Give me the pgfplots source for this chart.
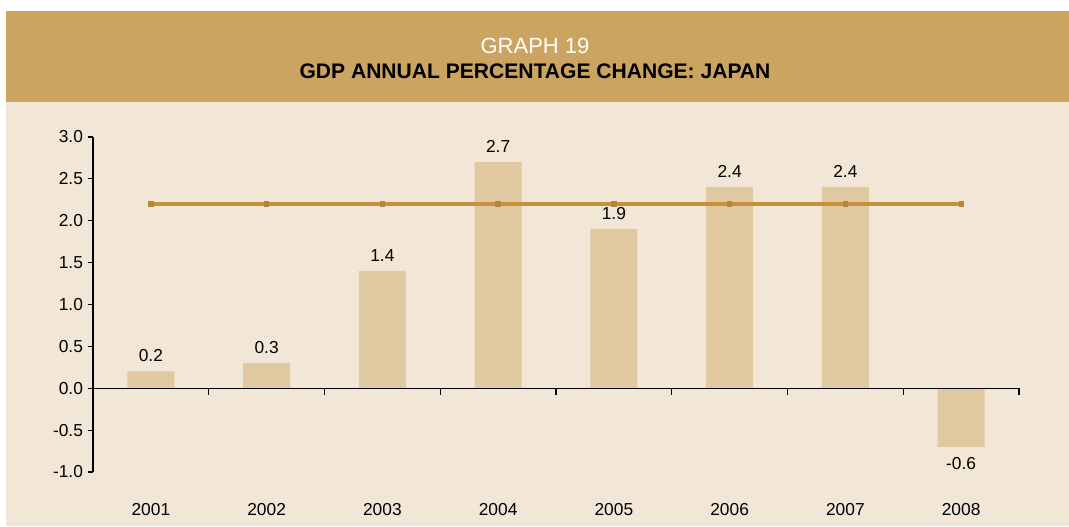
\documentclass[border=0pt]{standalone}
\usepackage{pgfplots}
\pgfplotsset{compat=1.18}
\usepackage{pgfplotstable}
\usepackage{fontspec}
\setmainfont{Liberation Sans}

\definecolor{header}{HTML}{CCA462}
\definecolor{panel}{HTML}{F2E6D7}
\definecolor{barfill}{HTML}{E0C8A0}
\definecolor{avgline}{HTML}{C6913F}
\definecolor{avgmark}{HTML}{B7843A}

% bar for 2008 reaches -0.7 in the chart, label printed as -0.6
\pgfplotstableread{
x y lab
0 0.2 0.2
1 0.3 0.3
2 1.4 1.4
3 2.7 2.7
4 1.9 1.9
5 2.4 2.4
6 2.4 2.4
7 -0.7 -0.6
}\gdpdata

\pgfplotstableread{
x y
0 2.2
1 2.2
2 2.2
3 2.2
4 2.2
5 2.2
6 2.2
7 2.2
}\avgdata

\begin{document}
\begin{tikzpicture}[x=0.75pt, y=0.75pt]
% page frame and panels (pixel units, origin bottom left)
\fill[white] (0,0) rectangle (1069,527);
\fill[panel] (6,1) rectangle (1069,425);
\fill[header] (6,425) rectangle (1069,516);
\node[white, font=\fontsize{16.5}{18}\selectfont] at (535,481) {GRAPH 19};
\node[black, font=\fontsize{15.8}{18}\selectfont\bfseries] at (535,456) {GDP ANNUAL PERCENTAGE CHANGE: JAPAN};

\begin{axis}[
    at={(69.75pt,41.25pt)}, anchor=south west,
    scale only axis, width=694.5pt, height=251.25pt,
    xmin=-0.5, xmax=7.5, ymin=-1, ymax=3,
    axis y line*=left, axis x line*=bottom,
    x axis line style={draw=none},
    y axis line style={line width=0.8pt},
    xtick={0,...,7},
    xticklabels={2001,2002,2003,2004,2005,2006,2007,2008},
    xtick style={draw=none},
    xticklabel style={yshift=-16pt},
    ytick={-1,-0.5,0,0.5,1,1.5,2,2.5,3},
    ytick style={line width=0.8pt, black},
    tick align=outside, major tick length=4pt,
    yticklabel style={/pgf/number format/fixed, /pgf/number format/fixed zerofill, /pgf/number format/precision=1},
    /pgf/number format/assume math mode=true,
    tick label style={font=\fontsize{13}{15}\selectfont, text=black},
    clip=false,
]
\addplot[ybar, bar width=35.25pt, fill=barfill, draw=none,
    point meta=explicit symbolic,
    visualization depends on={y<0 \as \isneg},
    nodes near coords,
    nodes near coords style={font=\fontsize{13}{15}\selectfont, text=black, inner sep=7pt, anchor=south,
        /utils/exec={\ifdim\isneg pt>0.5pt \tikzset{anchor=north, inner sep=8pt}\fi}},
] table[x=x, y=y, meta=lab] {\gdpdata};
\addplot[avgline, line width=3pt, mark=square*, mark size=1.6pt,
    mark options={fill=avgmark, draw=avgmark, line width=0pt}] table[x=x, y=y] {\avgdata};
% zero line with category separators
\draw[line width=0.8pt] (axis cs:-0.5,0) -- (axis cs:7.5,0);
\pgfplotsinvokeforeach{0.5,1.5,2.5,3.5,4.5,5.5,6.5,7.5}{
  \draw[line width=0.8pt] (axis cs:#1,0) -- ++(0pt,-5.25pt);
}
\end{axis}
\end{tikzpicture}
\end{document}
